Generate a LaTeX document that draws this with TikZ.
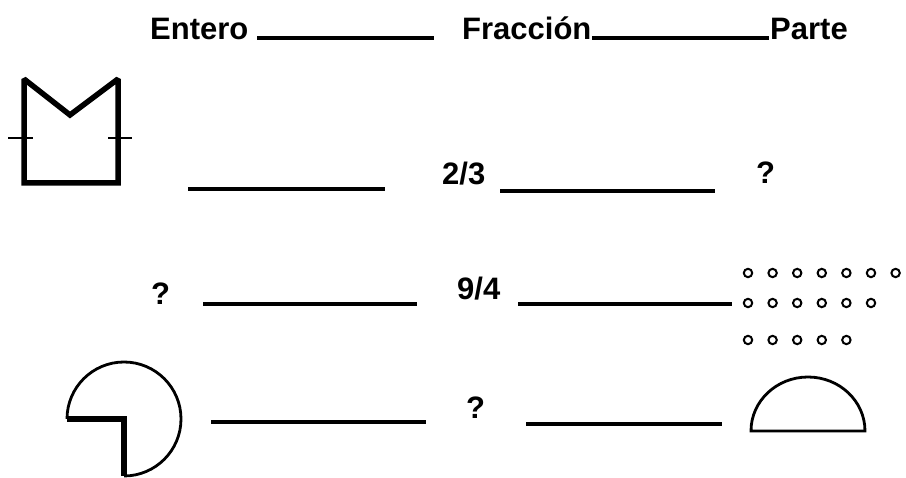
\documentclass[tikz,border=0pt]{standalone}
\usepackage{fontspec}
\setmainfont{Liberation Sans}
\usepackage{tikz}
\usetikzlibrary{positioning}

\begin{document}
\begin{tikzpicture}[x=1pt, y=-1pt,
  every node/.style={font=\fontsize{31}{36}\selectfont\bfseries, inner sep=0pt, anchor=base west},
  blank/.style={line width=4pt},
  outline/.style={line width=5.5pt, miter limit=2},
  thinline/.style={line width=2.8pt}]
\useasboundingbox (0,0) rectangle (906,478);

% header
\node (entero) at (150,40) {Entero};
\draw[blank] (257,38) -- (434,38);
\node (fraccion) at (462,40) {Fracción};
\draw[blank] (592,38) -- (769,38);
\node (parte) at (770,40) {Parte};

% row 1
\draw[outline] (24,79) -- (70,115) -- (118,79) -- (118,183) -- (24,183) -- cycle;
\draw[line width=1.5pt] (8,138) -- (33,138);
\draw[line width=1.5pt] (108,138) -- (132,138);
\draw[blank] (188,189) -- (385,189);
\node (fracA) at (442,185) {2/3};
\draw[blank] (500,191) -- (715,191);
\node (parteA) at (756,184) {?};

% row 2
\node (enteroB) at (151,305) {?};
\draw[blank] (203,304) -- (417,304);
\node (fracB) at (457,300) {9/4};
\draw[blank] (518,304) -- (732,304);
\foreach \n/\y in {7/273,6/303,5/340}
  \foreach \i in {1,...,\n}
    \draw[line width=2pt] ({748+24.6*(\i-1)},\y) circle (4.2pt);

% row 3
\draw[thinline] (67,419) arc[start angle=180, end angle=-90, radius=57pt];
\draw[outline] (67,419) -- (124,419) -- (124,476);
\draw[blank] (211,422) -- (426,422);
\node (fracC) at (466,419) {?};
\draw[blank] (526,424) -- (722,424);
\draw[thinline] (751,431) arc[start angle=180, end angle=0, x radius=57pt, y radius=54pt] -- cycle;
\end{tikzpicture}
\end{document}
